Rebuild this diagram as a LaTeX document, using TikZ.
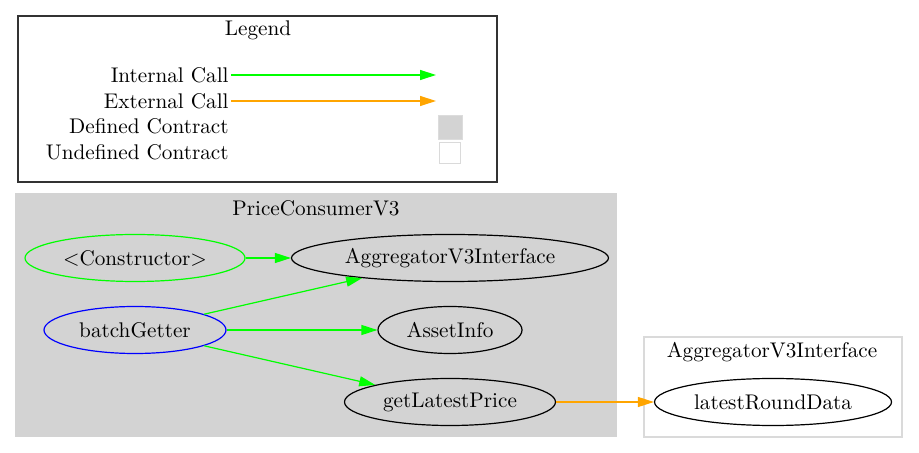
\documentclass[tikz,border=0pt]{standalone}
\usetikzlibrary{arrows.meta}
\usetikzlibrary{shapes.geometric}
\definecolor{callgreen}{RGB}{0,255,0}
\definecolor{callorange}{RGB}{255,165,0}
\definecolor{clustergray}{RGB}{211,211,211}
\definecolor{rimgray}{RGB}{218,218,218}
\tikzset{
  gv/.style={font=\fontsize{10.6}{12}\selectfont},
  fn/.style={gv, draw, ellipse, line width=0.6pt, inner sep=0pt, minimum height=23.5pt},
  intcall/.style={draw=callgreen, line width=0.6pt, -{Triangle[length=8pt,width=5pt]}},
  extcall/.style={draw=callorange, line width=0.6pt, -{Triangle[length=8pt,width=5pt]}},
}
\begin{document}
\begin{tikzpicture}[x=0.5pt, y=-0.5pt]
\useasboundingbox (0,0) rectangle (919,453);
% legend
\draw[line width=0.6pt, black!80] (18,16) rectangle (497,182);
\node[gv] (legend) at (258,30) {Legend};
\node[gv, anchor=east, inner sep=1pt] (intl) at (231,75) {Internal Call};
\node[gv, anchor=east, inner sep=1pt] (extl) at (231,101) {External Call};
\node[gv, anchor=east, inner sep=1pt] (defl) at (231,126) {Defined Contract};
\node[gv, anchor=east, inner sep=1pt] (undl) at (231,152) {Undefined Contract};
\coordinate (intlEnd) at (436,75);
\coordinate (extlEnd) at (436,101);
\draw[intcall] (intl.east) -- (intlEnd);
\draw[extcall] (extl.east) -- (extlEnd);
\node[fill=clustergray, draw=clustergray!80, minimum size=12pt, inner sep=0pt] (defbox) at (450,127) {};
\node[draw=rimgray, line width=0.6pt, minimum size=10.5pt, inner sep=0pt] (undbox) at (450,153) {};
% clusters
\fill[clustergray] (15,193) rectangle (617,437);
\node[gv] (pcv3) at (316,208) {PriceConsumerV3};
\draw[rimgray, line width=0.6pt] (644,337) rectangle (902,437);
\node[gv] (aggc) at (772,352) {AggregatorV3Interface};
% functions
\node[fn, draw=callgreen, minimum width=110pt] (ctor) at (135,258) {<Constructor>};
\node[fn, minimum width=158.5pt] (agg) at (450,258) {AggregatorV3Interface};
\node[fn, draw=blue, minimum width=91pt] (batch) at (135,330) {batchGetter};
\node[fn, minimum width=72pt] (asset) at (450,330) {AssetInfo};
\node[fn, minimum width=105.5pt] (price) at (450,402) {getLatestPrice};
\node[fn, minimum width=118.5pt] (round) at (773,402) {latestRoundData};
% calls
\draw[intcall] (ctor) -- (agg);
\draw[intcall] (batch) -- (agg);
\draw[intcall] (batch) -- (asset);
\draw[intcall] (batch) -- (price);
\draw[extcall] (price) -- (round);
\end{tikzpicture}
\end{document}
